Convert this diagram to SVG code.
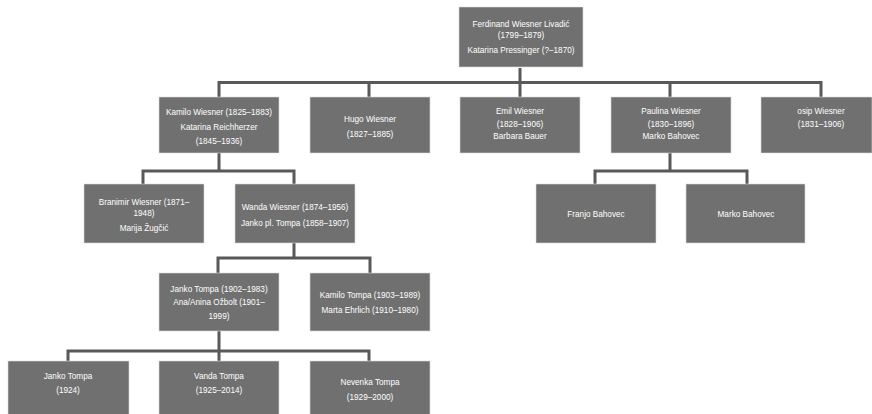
<svg xmlns="http://www.w3.org/2000/svg" width="872" height="414" viewBox="0 0 872 414">
<style>
.box{fill:#707070;stroke:#d9d9d9;stroke-width:0.6}
.t{font-family:"Liberation Sans",Arial,sans-serif;font-size:8.2px;fill:#ffffff;text-anchor:middle}
.c{fill:none;stroke:#595959;stroke-width:3;stroke-linejoin:miter;stroke-linecap:butt}
</style>
<rect width="872" height="414" fill="#ffffff"/>
<g id="connectors">
<path class="c" d="M520,68 V97 M219,97 V82.5 H821 V97 M369,82.5 V97 M670,82.5 V97"/>
<path class="c" d="M219,153 V171 M143,184 V171 H294 V184"/>
<path class="c" d="M670,153 V171 M595,184 V171 H747 V184"/>
<path class="c" d="M294,243 V258 M218,273 V258 H370 V273"/>
<path class="c" d="M219,331 V361 M68,361 V351 H369 V361"/>
</g>
<g id="ferdinand"><rect class="box" x="459" y="7" width="124" height="60"/>
<text class="t" x="521" y="27">Ferdinand Wiesner Livadić</text>
<text class="t" x="521" y="38">(1799–1879)</text>
<text class="t" x="521" y="53">Katarina Pressinger  (?–1870)</text></g>
<g id="kamilo"><rect class="box" x="159" y="97" width="120" height="56"/>
<text class="t" x="219" y="115">Kamilo Wiesner  (1825–1883)</text>
<text class="t" x="219" y="130">Katarina Reichherzer</text>
<text class="t" x="219" y="144">(1845–1936)</text></g>
<g id="hugo"><rect class="box" x="310" y="97" width="120" height="56"/>
<text class="t" x="370" y="122">Hugo Wiesner</text>
<text class="t" x="370" y="137">(1827–1885)</text></g>
<g id="emil"><rect class="box" x="460" y="97" width="120" height="56"/>
<text class="t" x="520" y="114">Emil Wiesner</text>
<text class="t" x="520" y="127">(1828–1906)</text>
<text class="t" x="520" y="139">Barbara Bauer</text></g>
<g id="paulina"><rect class="box" x="611" y="97" width="120" height="56"/>
<text class="t" x="671" y="114">Paulina  Wiesner</text>
<text class="t" x="671" y="127">(1830–1896)</text>
<text class="t" x="671" y="139">Marko Bahovec</text></g>
<g id="osip"><rect class="box" x="761" y="97" width="111" height="56"/>
<text class="t" x="821" y="114">osip  Wiesner</text>
<text class="t" x="821" y="127">(1831–1906)</text></g>
<g id="branimir"><rect class="box" x="84" y="184" width="120" height="59"/>
<text class="t" x="144" y="205">Branimir Wiesner  (1871–</text>
<text class="t" x="144" y="216">1948)</text>
<text class="t" x="144" y="231">Marija Žugčić</text></g>
<g id="wanda"><rect class="box" x="235" y="184" width="120" height="59"/>
<text class="t" x="295" y="210">Wanda Wiesner  (1874–1956)</text>
<text class="t" x="295" y="226">Janko pl. Tompa  (1858–1907)</text></g>
<g id="franjo"><rect class="box" x="536" y="184" width="120" height="59"/>
<text class="t" x="596" y="217">Franjo Bahovec</text></g>
<g id="marko"><rect class="box" x="686" y="184" width="119" height="59"/>
<text class="t" x="746" y="217">Marko Bahovec</text></g>
<g id="janko"><rect class="box" x="159" y="273" width="120" height="58"/>
<text class="t" x="219" y="292">Janko Tompa  (1902–1983)</text>
<text class="t" x="219" y="305">Ana/Anina  Ožbolt  (1901–</text>
<text class="t" x="219" y="319">1999)</text></g>
<g id="kamilo-tompa"><rect class="box" x="310" y="273" width="120" height="58"/>
<text class="t" x="370" y="298">Kamilo Tompa  (1903–1989)</text>
<text class="t" x="370" y="313">Marta Ehrlich  (1910–1980)</text></g>
<g id="janko-jr"><rect class="box" x="8" y="361" width="121" height="60"/>
<text class="t" x="68" y="379">Janko Tompa</text>
<text class="t" x="68" y="393">(1924)</text></g>
<g id="vanda"><rect class="box" x="159" y="361" width="120" height="60"/>
<text class="t" x="219" y="379">Vanda Tompa</text>
<text class="t" x="219" y="393">(1925–2014)</text></g>
<g id="nevenka"><rect class="box" x="310" y="361" width="120" height="60"/>
<text class="t" x="370" y="385">Nevenka Tompa</text>
<text class="t" x="370" y="400">(1929–2000)</text></g>
</svg>
